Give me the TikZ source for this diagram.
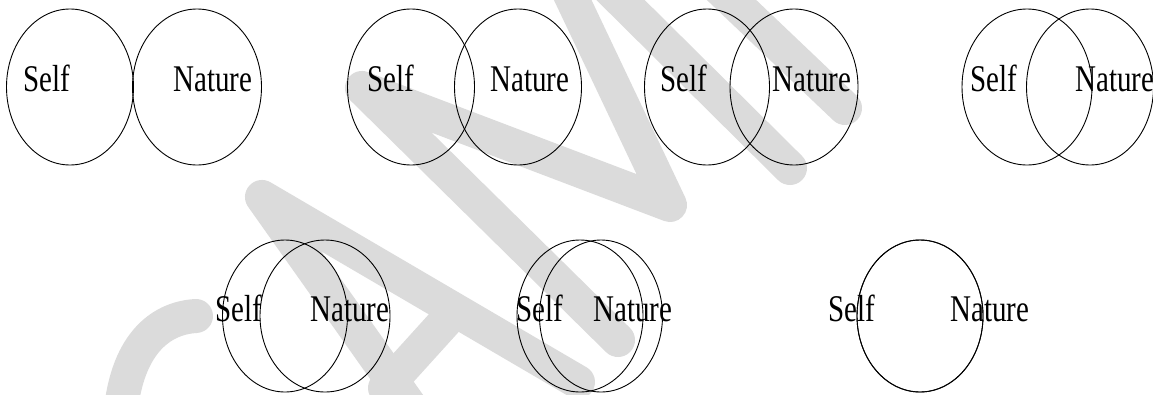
\documentclass[tikz,border=0pt]{standalone}
\usepackage{fontspec}
\setmainfont{Liberation Serif}
\usetikzlibrary{shapes.geometric}

\begin{document}
\begin{tikzpicture}[x=1pt, y=-1pt]
    \tikzstyle{ring}=[ellipse, draw=black, line width=0.9pt, inner sep=0pt, minimum width=127pt, minimum height=156pt]
    \tikzstyle{low ring}=[ring, minimum height=152pt]
    \tikzstyle{word}=[inner sep=0pt, anchor=base west, yscale=1.3, font=\fontsize{29}{29}\selectfont]
    \tikzstyle{wmark}=[draw=black!14, line width=34pt, line cap=round, line join=round]

    \useasboundingbox (0,0) rectangle (1153,394);

    % Draw the watermark letters behind the rings
    \begin{scope}
    \clip (0,0) rectangle (1153,394);
    \draw[wmark] (196,316) .. controls (160,318) and (125,345) .. (120,420);
    \draw[wmark] (578,382) -- (262,197) -- (420,420);
    \draw[wmark] (385,388) -- (452,314);
    \draw[wmark] (618,340) -- (362,88) -- (670,205) -- (530,-90);
    \draw[wmark] (560,-60) -- (790,168);
    \draw[wmark] (700,-30) -- (845,108);
    \end{scope}

    % Draw the top row of rings
    \node[ring] (S-1) at (70,87) {};
    \node[ring, minimum width=129pt] (N-1) at (197,87) {};
    \node[ring] (S-2) at (411,87) {};
    \node[ring] (N-2) at (518,87) {};
    \node[ring, minimum width=125pt] (S-3) at (707,87) {};
    \node[ring, minimum width=128pt] (N-3) at (794,87) {};
    \node[ring, minimum width=130pt] (S-4) at (1027,87) {};
    \node[ring] (N-4) at (1090,87) {};

    % Draw the bottom row of rings
    \node[low ring, minimum width=125pt] (S-5) at (285,316) {};
    \node[low ring, minimum width=130pt] (N-5) at (325,316) {};
    \node[low ring, minimum width=126pt] (S-6) at (580,316) {};
    \node[low ring, minimum width=123pt] (N-6) at (601,316) {};
    \node[low ring, minimum width=126pt] (S-7) at (920,316) {};
    \node[low ring, minimum width=126pt] (N-7) at (920,316) {};

    % Labels
    \node[word] (ls-1) at (23,91) {Self};
    \node[word] (ln-1) at (173,91) {Nature};
    \node[word] (ls-2) at (367,91) {Self};
    \node[word] (ln-2) at (490,91) {Nature};
    \node[word] (ls-3) at (660,91) {Self};
    \node[word] (ln-3) at (772,91) {Nature};
    \node[word] (ls-4) at (970,91) {Self};
    \node[word] (ln-4) at (1075,91) {Nature};
    \node[word] (ls-5) at (215,321) {Self};
    \node[word] (ln-5) at (310,321) {Nature};
    \node[word] (ls-6) at (516,321) {Self};
    \node[word] (ln-6) at (593,321) {Nature};
    \node[word] (ls-7) at (828,321) {Self};
    \node[word] (ln-7) at (950,321) {Nature};
\end{tikzpicture}
\end{document}
